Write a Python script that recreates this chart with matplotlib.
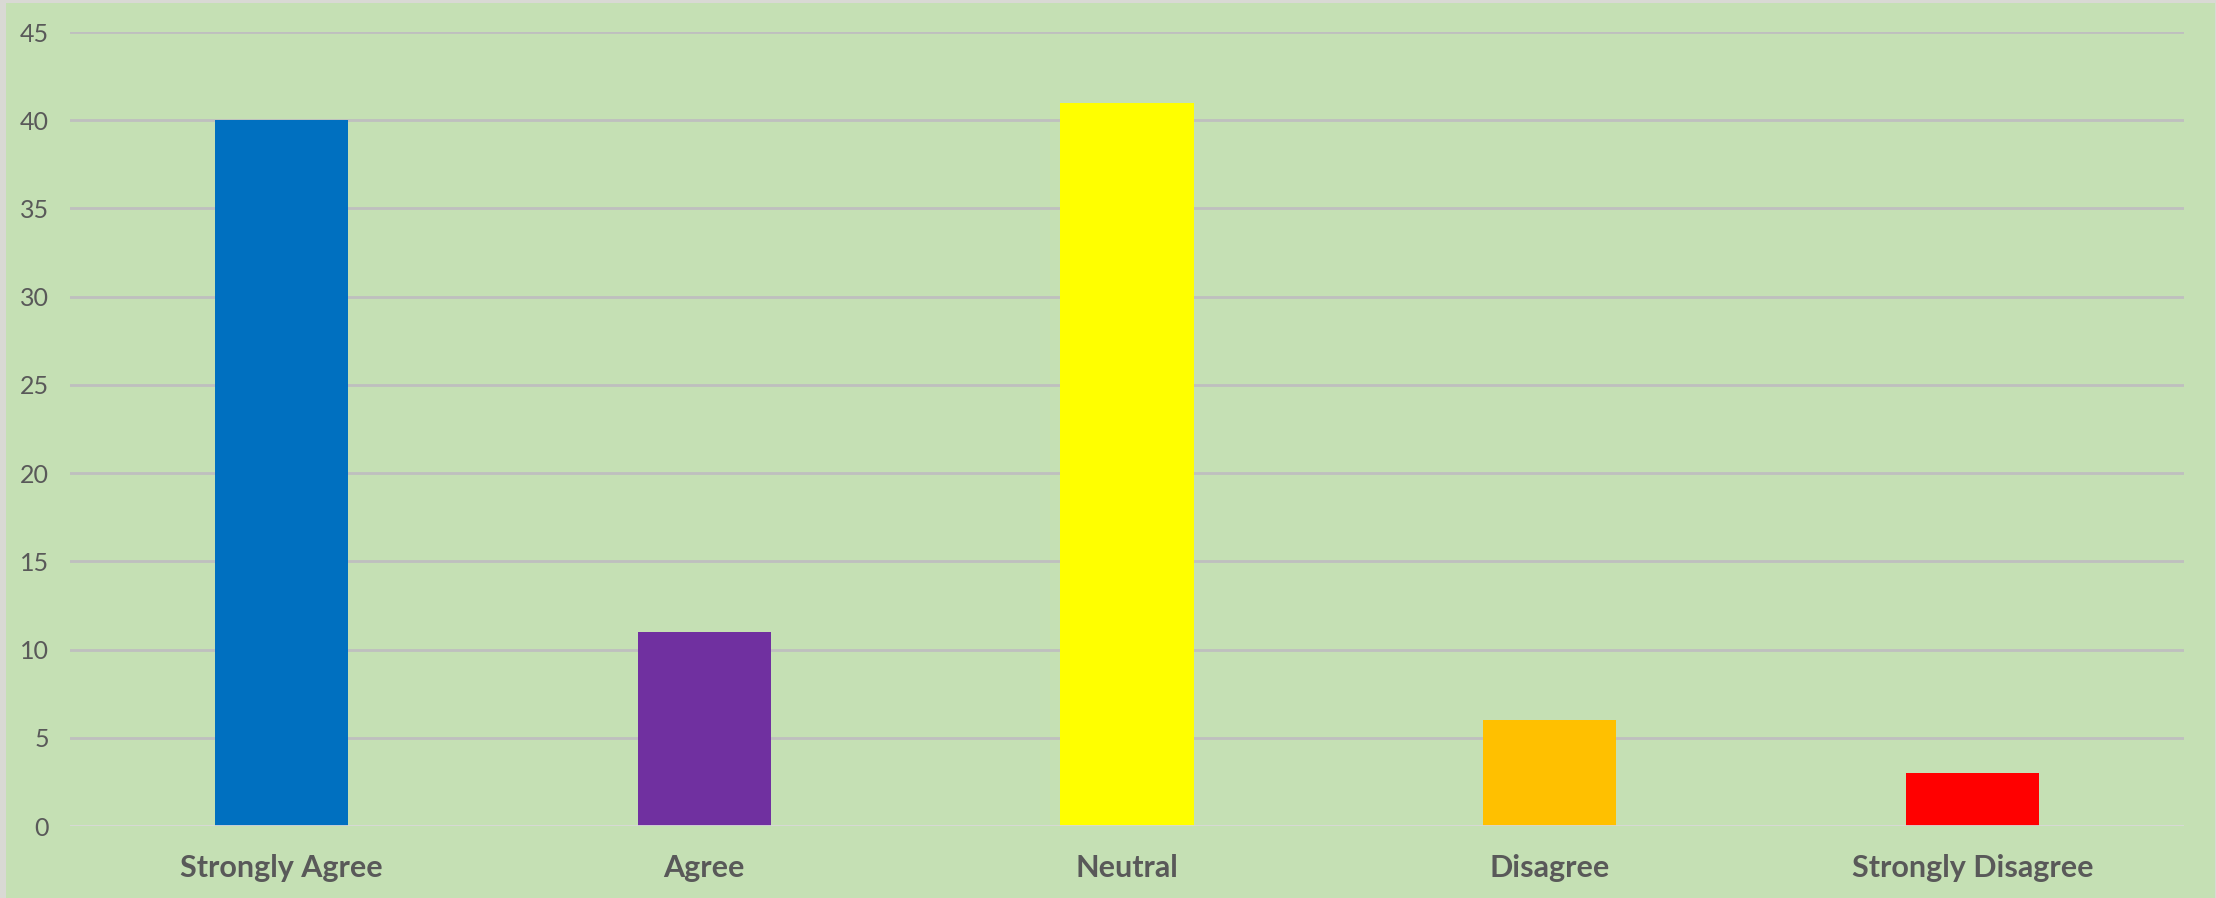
import matplotlib
matplotlib.use("Agg")
import matplotlib.pyplot as plt
from matplotlib.patches import Rectangle

# survey responses
categories = ["Strongly Agree", "Agree", "Neutral", "Disagree", "Strongly Disagree"]
counts = [40, 11, 41, 6, 3]
bar_colors = ["#0070C0", "#7030A0", "#FFFF00", "#FFC000", "#FF0000"]
yticks = [0, 5, 10, 15, 20, 25, 30, 35, 40, 45]

W, H = 2216, 898
fig = plt.figure(figsize=(W / 100, H / 100), dpi=100)
fig.patch.set_facecolor("#d9d9d4")

# green panel behind the chart
panel = Rectangle((6 / W, 0), (2215 - 6) / W, 1 - 3 / H, transform=fig.transFigure,
                  facecolor="#C5E0B4", edgecolor="none", zorder=-1)
fig.patches.append(panel)

ax = fig.add_axes([70 / W, 1 - 826 / H, (2184 - 70) / W, (826 - 32) / H])
ax.set_facecolor("none")

x = list(range(len(categories)))
ax.bar(x, counts, width=0.315, color=bar_colors, zorder=3)

ax.set_xlim(-0.5, len(categories) - 0.5)
ax.set_ylim(0, 45)
ax.set_yticks(yticks)
for t in yticks[1:]:
    ax.axhline(t, color="#BFBFBF", lw=2, zorder=1)
ax.axhline(0, color="#D9D9D9", lw=2, zorder=4)

for s in ax.spines.values():
    s.set_visible(False)

ax.set_xticks(x)
ax.set_xticklabels(categories, fontfamily="Lato", fontweight="bold",
                   fontsize=22, color="#595959")
ax.tick_params(axis="x", length=0, pad=20)
ax.tick_params(axis="y", length=0, pad=15, labelsize=18, labelcolor="#595959")
for lab in ax.get_yticklabels():
    lab.set_fontfamily("Lato")

fig.savefig("out.png", dpi=100, facecolor=fig.get_facecolor())
